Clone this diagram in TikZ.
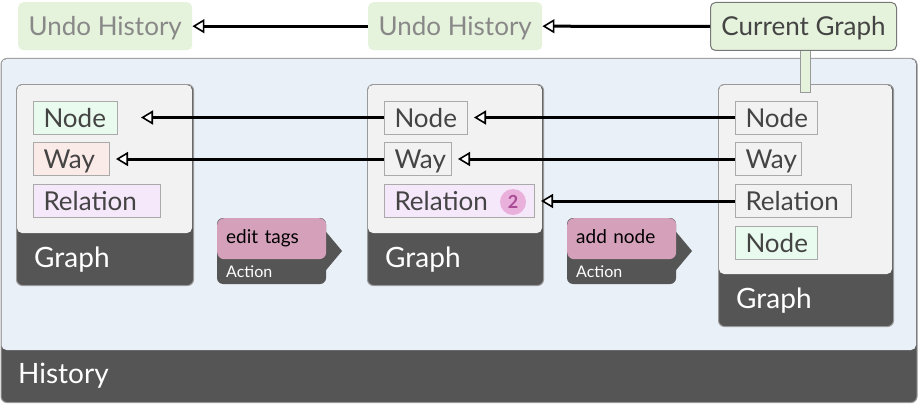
\documentclass[tikz,border=0pt]{standalone}
\usepackage{fontspec}
\setmainfont{Lato}
\usetikzlibrary{arrows.meta,calc}
\definecolor{histbg}{HTML}{E9F0F8}
\definecolor{darkband}{HTML}{555555}
\definecolor{graphbg}{HTML}{F2F2F2}
\definecolor{undobg}{HTML}{E6F3DC}
\definecolor{ngreen}{HTML}{E9FBEE}
\definecolor{wred}{HTML}{FBEBE8}
\definecolor{rpurple}{HTML}{F6E8FB}
\definecolor{actpink}{HTML}{D4A0BA}
\definecolor{badgefill}{HTML}{E8B0DA}
\definecolor{badgetxt}{HTML}{A84A94}
\definecolor{txtc}{HTML}{444444}
\definecolor{bord}{HTML}{999999}
\definecolor{ibord}{HTML}{AAAAAA}
\definecolor{undotxt}{HTML}{888888}
\definecolor{cgbord}{HTML}{777777}
\newcommand\bigfont{\fontsize{26pt}{30pt}\selectfont}
\newcommand\glfont{\fontsize{28pt}{32pt}\selectfont}
\newcommand\actfont{\fontsize{19pt}{22pt}\selectfont}
\newcommand\smallfont{\fontsize{16pt}{19pt}\selectfont}
\newcommand\gbox[6]{%
  \node[draw=bord, fill=darkband, rounded corners=6pt, line width=1pt, inner sep=0pt,
        anchor=north west, minimum width={#4-#2}, minimum height={#5-#3}] (#1) at (#2,#3) {};
  \fill[graphbg, rounded corners=5pt] (#2+1,#3+1) rectangle (#4-1,#6);
  \node[glabel] (#1l) at (#2+18,#6+34) {Graph};
}
\newcommand\actionbox[3]{%
  \fill[darkband, rounded corners=6pt] (#2,218) rectangle (#2+109,284);
  \fill[darkband] (#2+105,227) -- (#2+125,251) -- (#2+105,275) -- cycle;
  \node[actbox] (#1) at (#2,218) {#3};
  \node[anchor=base west, text=white, font=\smallfont, inner sep=0pt] (#1l) at (#2+9,277) {Action};
}
\begin{document}
\begin{tikzpicture}[x=1pt,y=-1pt,
  undo/.style={fill=undobg, rounded corners=5pt, text=undotxt, font=\bigfont,
     minimum width=174pt, minimum height=48pt, inner sep=0pt, text height=19pt, text depth=0pt, anchor=north west},
  item/.style={draw=ibord, line width=1pt, text=txtc, font=\bigfont, align=left,
     inner xsep=10pt, inner ysep=7pt, text height=19pt, text depth=0pt, minimum height=33pt, anchor=west},
  glabel/.style={anchor=base west, text=white, font=\glfont, inner sep=0pt},
  actbox/.style={fill=actpink, rounded corners=7pt, anchor=north west, text width=91pt, align=left,
     inner xsep=9pt, inner ysep=0pt, minimum height=41pt, text height=10pt, text depth=0pt, font=\actfont, text=black},
  arr/.style={line width=3pt, -{Triangle[length=12pt, width=14pt, line width=1.6pt, fill=white]}},
]
\useasboundingbox (0,0) rectangle (918,404);

% History container
\node[draw=bord, fill=darkband, rounded corners=6pt, line width=1pt, inner sep=0pt,
      anchor=north west, minimum width=916pt, minimum height=344pt] (hist) at (0.5,58) {};
\fill[histbg, rounded corners=5pt] (1.5,59) rectangle (916,350);
\node[anchor=base west, text=white, font=\glfont, inner sep=0pt] (histl) at (18,383) {History};

% Graph boxes
\gbox{g1}{16}{84}{193}{285}{233}
\gbox{g2}{367}{84}{543}{285}{233}
\gbox{g3}{718}{84}{893}{326}{274}

% Items graph 1
\node[item, fill=ngreen, text width=64pt] (n1) at (33,117.5) {Node};
\node[item, fill=wred, text width=56pt] (w1) at (33,159) {Way};
\node[item, fill=rpurple, text width=107pt] (r1) at (33,201) {Relation};
% Items graph 2
\node[item, fill=graphbg, text width=63pt] (n2) at (384,117.5) {Node};
\node[item, fill=graphbg, text width=47pt] (w2) at (384,159) {Way};
\node[item, fill=rpurple, text width=130pt] (r2) at (384,201) {Relation};
\node[circle, fill=badgefill, minimum size=26pt, inner sep=0pt, text=badgetxt,
      font=\fontsize{18pt}{20pt}\selectfont\bfseries] (badge) at (513,202) {2};
% Items graph 3
\node[item, fill=graphbg, text width=62pt] (n3) at (735,117.5) {Node};
\node[item, fill=graphbg, text width=46pt] (w3) at (735,159) {Way};
\node[item, fill=graphbg, text width=96pt] (r3) at (735,201) {Relation};
\node[item, fill=ngreen, text width=62pt] (n4) at (735,243) {Node};

% Actions
\actionbox{a1}{217}{edit tags}
\actionbox{a2}{567}{add node}

% Undo history and current graph
\node[undo] (u1) at (18,2) {Undo History};
\node[undo] (u2) at (368,2) {Undo History};
\fill[undobg] (800,48) rectangle (810,92);
\draw[bord, line width=1pt] (800,48) -- (800,92) -- (810,92) -- (810,48);
\node[undo, draw=cgbord, line width=1pt, text=txtc, minimum width=186pt, anchor=north west] (cg) at (710,2) {Current Graph};

% Arrows
\coordinate (t1) at ($(n1.east)+(23,0)$);
\draw[arr] (u2.west) -- (u1.east);
\draw[arr] (cg.west) -- (u2.east);
\draw[arr] (n2.west) -- (t1);
\draw[arr, shorten >=6pt] (w2.west) -- (w1.east);
\draw[arr, shorten >=6pt] (n3.west) -- (n2.east);
\draw[arr, shorten >=6pt] (w3.west) -- (w2.east);
\draw[arr, shorten >=6pt] (r3.west) -- (r2.east);
\end{tikzpicture}
\end{document}
